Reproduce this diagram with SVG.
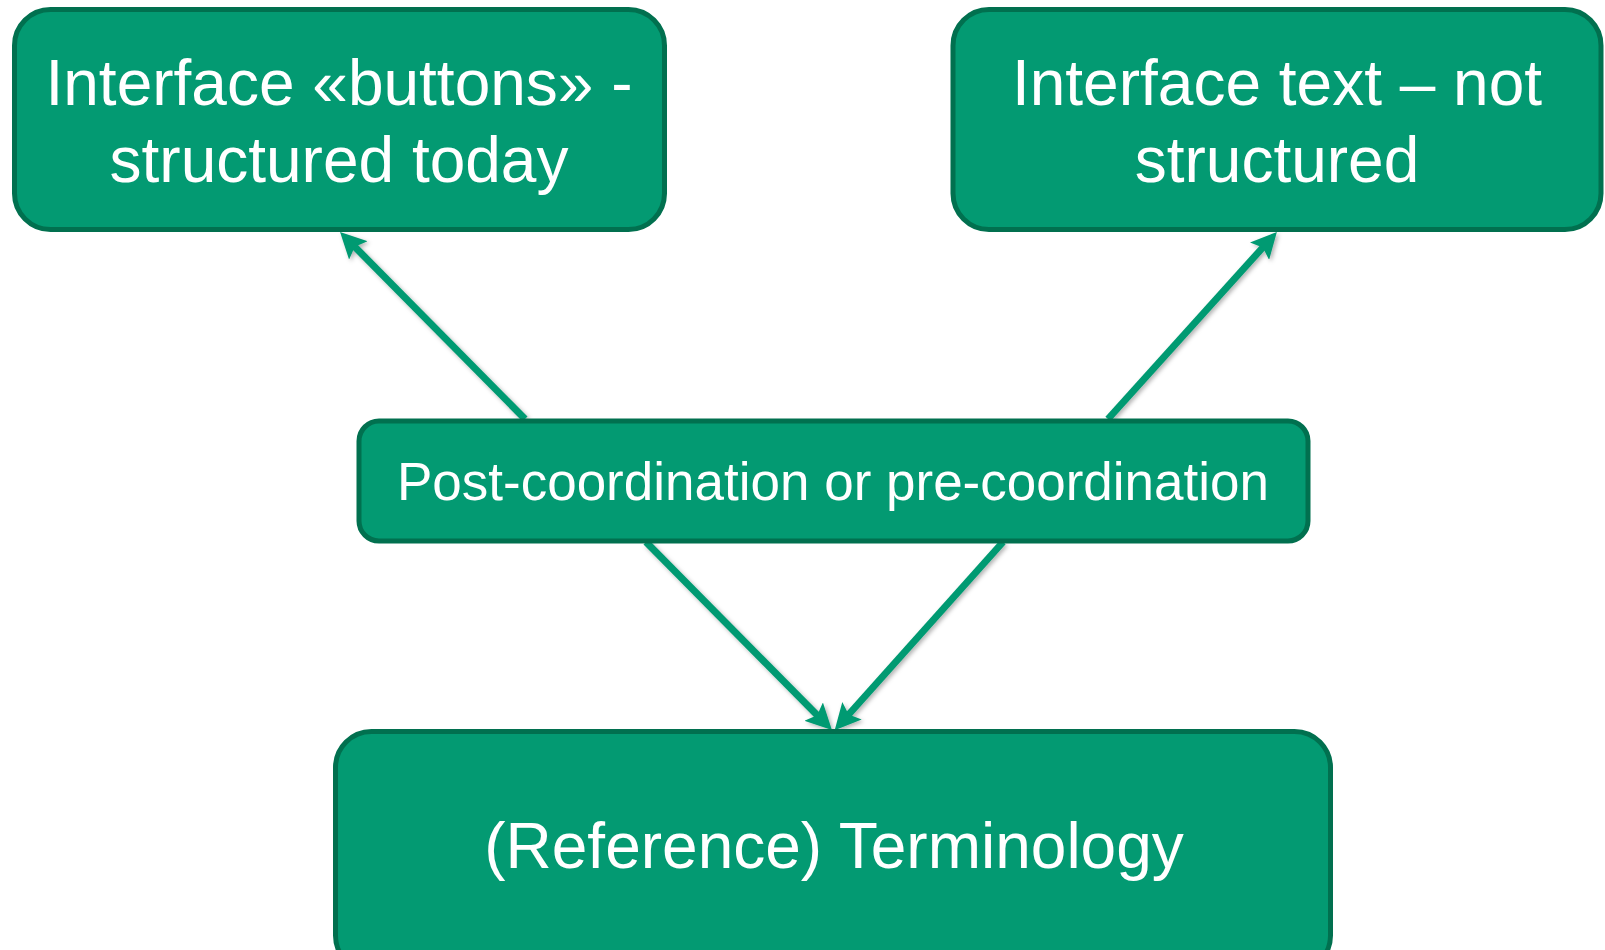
<svg xmlns="http://www.w3.org/2000/svg" width="1605" height="950" viewBox="0 0 1605 950">
  <defs>
    <style>
      .box { fill: #039A72; stroke: #01704F; stroke-width: 5; }
      .lbl { font-family: "Liberation Sans", Arial, sans-serif; fill: #FFFFFF; text-anchor: middle; }
      .big { font-size: 64px; }
      .mid { font-size: 53px; }
      .conn { stroke: #039A72; stroke-width: 7; fill: none; marker-end: url(#arrow); }
    </style>
    <marker id="arrow" markerUnits="userSpaceOnUse" markerWidth="26" markerHeight="26" refX="9" refY="13" orient="auto" viewBox="0 0 26 26">
      <path d="M0,0 L26,13 L0,26 L5,13 z" fill="#039A72"/>
    </marker>
    <filter id="shadow" x="-20%" y="-20%" width="140%" height="140%">
      <feDropShadow dx="2" dy="2" stdDeviation="2" flood-color="#000000" flood-opacity="0.3"/>
    </filter>
  </defs>

  <g id="connectors" filter="url(#shadow)">
    <line class="conn" x1="525" y1="419" x2="352" y2="244"/>
    <line class="conn" x1="1108" y1="419" x2="1265.5" y2="244.5"/>
    <line class="conn" x1="646" y1="542" x2="820" y2="718"/>
    <line class="conn" x1="1003" y1="542" x2="846" y2="717.5"/>
  </g>

  <g id="node-buttons">
    <rect class="box" x="14.5" y="9.5" width="650" height="220" rx="36" ry="36"/>
    <text class="lbl big" x="339" y="105">Interface «buttons» -</text>
    <text class="lbl big" x="339" y="182">structured today</text>
  </g>

  <g id="node-text">
    <rect class="box" x="953" y="9.5" width="648" height="220" rx="36" ry="36"/>
    <text class="lbl big" x="1277" y="105">Interface text – not</text>
    <text class="lbl big" x="1277" y="182">structured</text>
  </g>

  <g id="node-coordination">
    <rect class="box" x="359" y="421" width="949" height="120" rx="20" ry="20"/>
    <text class="lbl mid" x="833" y="500">Post-coordination or pre-coordination</text>
  </g>

  <g id="node-terminology">
    <rect class="box" x="335.5" y="731.5" width="995" height="240" rx="36" ry="36"/>
    <text class="lbl big" x="834" y="868">(Reference) Terminology</text>
  </g>
</svg>
